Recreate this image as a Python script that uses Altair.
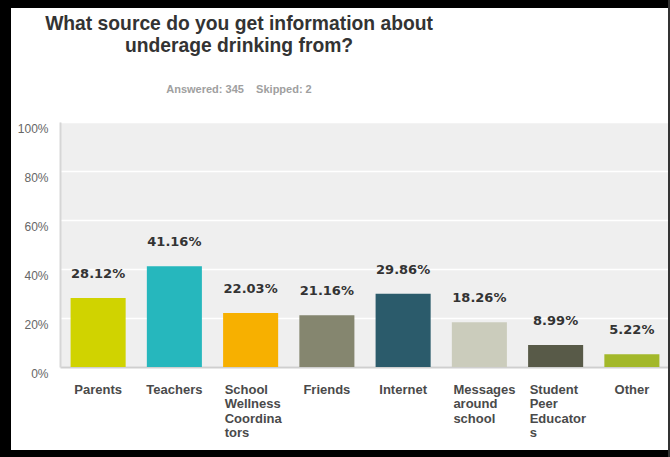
import altair as alt
import pandas as pd

categories = ["Parents", "Teachers", "School Wellness Coordinators", "Friends",
              "Internet", "Messages around school", "Student Peer Educators", "Other"]
label_lines = [["Parents"], ["Teachers"], ["School", "Wellness", "Coordina", "tors"],
               ["Friends"], ["Internet"], ["Messages", "around", "school"],
               ["Student", "Peer", "Educator", "s"], ["Other"]]
percents = [28.12, 41.16, 22.03, 21.16, 29.86, 18.26, 8.99, 5.22]
colors = ["#d0d300", "#26b7bd", "#f7b000", "#85866f", "#2b5b6b", "#cbccbc", "#585a48", "#a3b82a"]
y_ticks = [0, 10, 20, 30, 40, 50, 60, 70, 80, 90, 100]
title_lines = ["What source do you get information about", "underage drinking from?"]
subtitle_text = "Answered: 345\u00a0\u00a0\u00a0\u00a0Skipped: 2"

df = pd.DataFrame({"source": categories, "pct": percents,
                   "label": [f"{p:.2f}%" for p in percents]})

W, H = 610, 245
PAD_L, PAD_T = 60, 122

# label expression for multi-line x labels
parts = []
for c, lines in zip(categories, label_lines):
    arr = "[" + ",".join("'" + l + "'" for l in lines) + "]"
    parts.append(f"datum.value == '{c}' ? {arr}")
x_label_expr = " : ".join(parts) + " : datum.value"
multi_test = "indexof(datum.value, ' ') >= 0"

x_enc = alt.X("source:N", sort=categories, title=None,
              scale=alt.Scale(paddingInner=0.278, paddingOuter=0.139),
              axis=alt.Axis(labelAngle=0, labelExpr=x_label_expr, ticks=False,
                            domainColor="#cfcfcf", domainWidth=2,
                            labelFont="Liberation Sans", labelFontSize=13,
                            labelFontWeight="bold", labelColor="#4a4a4a",
                            labelLineHeight=14.5, labelPadding=16,
                            labelBaseline="top",
                            labelAlign={"condition": {"test": multi_test, "value": "left"}, "value": "center"},
                            labelOffset={"condition": {"test": multi_test, "value": -26}, "value": 0},
                            grid=False))

y_enc = alt.Y("pct:Q", title=None,
              scale=alt.Scale(domain=[0, 100], nice=False),
              axis=alt.Axis(values=y_ticks,
                            labelExpr="datum.value % 20 == 0 ? datum.value + '%' : ''",
                            ticks=False, domainColor="#d6d6d6", domainWidth=2,
                            gridColor="white", gridWidth=1.5,
                            labelFont="Liberation Sans", labelFontSize=12,
                            labelColor="#666666", labelPadding=12, labelOffset=6))

bars = alt.Chart(df).mark_bar().encode(
    x=x_enc, y=y_enc,
    color=alt.Color("source:N", scale=alt.Scale(domain=categories, range=colors), legend=None),
)

texts = alt.Chart(df).mark_text(font="DejaVu Sans", fontSize=13, fontWeight="bold",
                                color="#333333", baseline="middle", dy=-24).encode(
    x=alt.X("source:N", sort=categories),
    y="pct:Q",
    text="label:N",
)

one = alt.Data(values=[{"k": 0}])
TOT_W, TOT_H = 670, 457


def frame(x0, x1, y0, y1, col="black"):
    return alt.Chart(one).mark_rect(color=col).encode(
        x=alt.value(x0 - PAD_L), x2=alt.value(x1 - PAD_L),
        y=alt.value(y0 - PAD_T), y2=alt.value(y1 - PAD_T))


frames = [frame(0, 11, 0, TOT_H), frame(0, TOT_W, 0, 8), frame(0, TOT_W, 450, TOT_H),
          frame(668, TOT_W, 0, TOT_H, "#333333")]

chart = alt.layer(bars, texts, *frames).properties(
    width=W, height=H,
    title=alt.TitleParams(text=title_lines, subtitle=subtitle_text, anchor="middle",
                          dx=-126, dy=122, offset=27, font="Liberation Sans", fontSize=19.3,
                          fontWeight="bold", color="#333333", lineHeight=22,
                          subtitleFont="Liberation Sans", subtitleFontSize=11,
                          subtitleFontWeight="bold", subtitleColor="#a0a0a0",
                          subtitlePadding=28),
    autosize=alt.AutoSizeParams(type="none"),
    padding={"left": PAD_L, "top": PAD_T, "right": TOT_W - PAD_L - W, "bottom": TOT_H - PAD_T - H},
).configure(background="white").configure_view(fill="#efefef", stroke=None)

chart.save("out.html", embed_options={"renderer": "svg", "actions": False})
